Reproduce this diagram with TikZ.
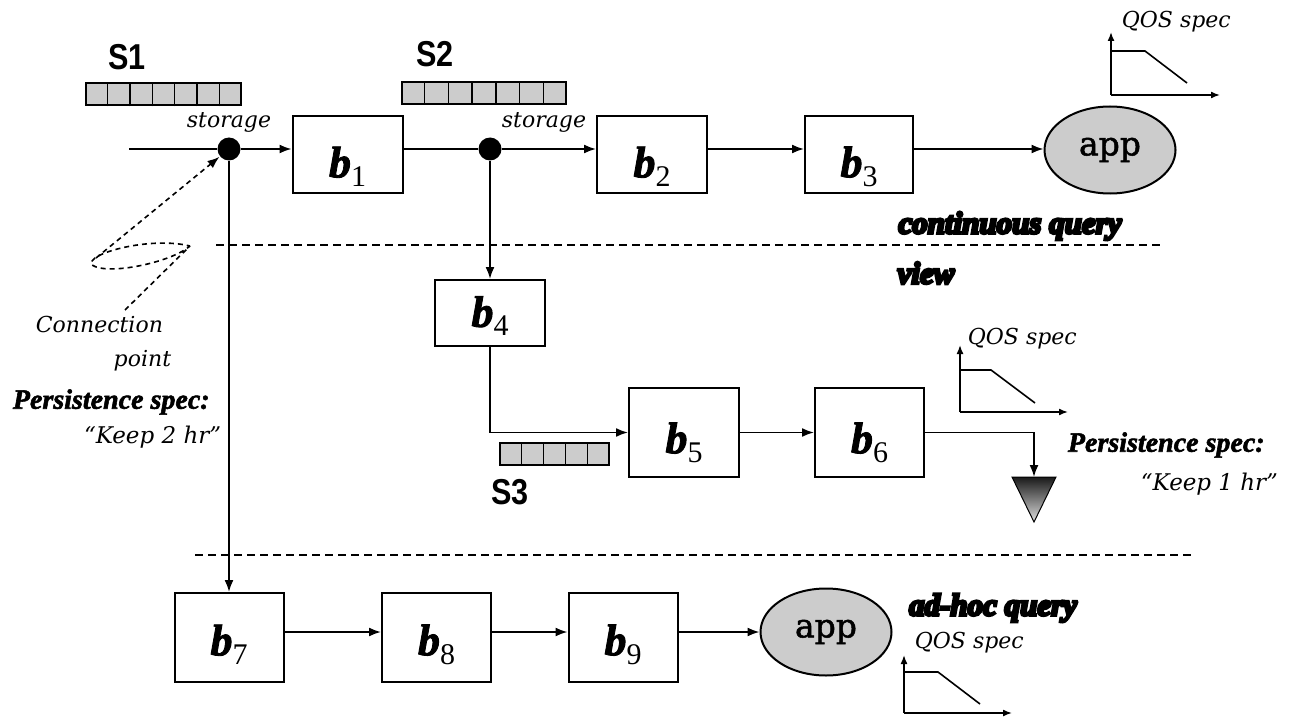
\documentclass[tikz,border=0pt]{standalone}
\usepackage{fontspec}
\setmainfont{Liberation Serif}
\newfontfamily\dvs{DejaVu Serif}
\newfontfamily\dvsb{DejaVu Serif}[FakeBold=1.5]
\newfontfamily\lsans{Liberation Sans}
\newfontfamily\heavyfont{Liberation Serif Bold Italic}[FakeBold=9]
\newfontfamily\bifont{Liberation Serif Bold Italic}[FakeBold=2]
\usetikzlibrary{arrows.meta,calc,shapes.geometric}
\newcommand{\blab}[1]{{\bifont\fontsize{44}{44}\selectfont b}\raisebox{-9pt}{\fontsize{30}{30}\selectfont #1}}
\begin{document}
\begin{tikzpicture}[x=1pt,y=-1pt,line width=1.8pt,
  arr/.style={-{Latex[length=12pt,width=9pt]}},
  arrs/.style={-{Latex[length=9pt,width=7pt]}},
  box/.style={draw,line width=2pt,minimum width=110pt,minimum height=89pt,inner sep=0pt},
  lbl/.style={inner sep=0pt},
  queue/.style={draw,fill=gray!40,line width=2pt,inner sep=0pt,minimum height=22pt},
  dotnode/.style={circle,fill=black,minimum size=23pt,inner sep=0pt},
  appnode/.style={ellipse,draw,fill=gray!40,line width=2pt,minimum width=131pt,minimum height=87pt,inner sep=0pt,font=\dvsb\fontsize{33}{33}\selectfont},
  ital/.style={font=\dvs\itshape\fontsize{22}{22}\selectfont,inner sep=0pt},
  persist/.style={font=\bifont\fontsize{28}{28}\selectfont,inner sep=0pt},
  heavy/.style={font=\heavyfont\fontsize{31}{31}\selectfont,inner sep=0pt},
  sname/.style={font=\lsans\bfseries\fontsize{36}{36}\selectfont,inner sep=0pt},
  sep/.style={dash pattern=on 8pt off 5pt,line width=2pt},
  cpt/.style={dash pattern=on 5pt off 4pt,line width=1.6pt},
  ax/.style={line width=1.6pt},
  divider/.style={line width=1.3pt}]
\useasboundingbox (0,0) rectangle (1300,722);

% queues
\node[sname] (s1) at (127,57) {\scalebox{0.85}[1]{S1}};
\node[queue,minimum width=155pt] (q1) at (163.5,94.5) {};
\foreach \i in {1,...,6} \draw[divider] ($(q1.south west)!\i/7!(q1.south east)$) -- ($(q1.north west)!\i/7!(q1.north east)$);
\node[sname] (s2) at (435,54) {\scalebox{0.85}[1]{S2}};
\node[queue,minimum width=164pt] (q2) at (484,93) {};
\foreach \i in {1,...,6} \draw[divider] ($(q2.south west)!\i/7!(q2.south east)$) -- ($(q2.north west)!\i/7!(q2.north east)$);
\node[queue,minimum width=109pt] (q3) at (554.5,454) {};
\foreach \i in {1,...,4} \draw[divider] ($(q3.south west)!\i/5!(q3.south east)$) -- ($(q3.north west)!\i/5!(q3.north east)$);
\node[sname] (s3) at (510,492) {\scalebox{0.85}[1]{S3}};

% storage points
\node[ital] (st1) at (229,122) {storage};
\node[ital] (st2) at (544,122) {storage};
\node[dotnode] (d1) at (229,149) {};
\node[dotnode] (d2) at (490,149) {};
\coordinate (in) at (129,149);

% boxes
\node[box,minimum height=77pt] (b1) at (347.5,154.5) {};
\node[box,minimum height=77pt] (b2) at (652,154.5) {};
\node[box,minimum height=77pt,minimum width=108pt] (b3) at (859,154.5) {};
\node[box,minimum height=66pt] (b4) at (490,313) {};
\node[box] (b5) at (684,432.5) {};
\node[box,minimum width=109pt] (b6) at (869.5,432.5) {};
\node[box,minimum width=109pt] (b7) at (229,637.5) {};
\node[box,minimum width=109pt] (b8) at (436.5,637.5) {};
\node[box,minimum width=109pt] (b9) at (623,637.5) {};
\node[lbl] (l1) at ([yshift=-12pt]b1.center) {\blab{1}};
\node[lbl] (l2) at ([yshift=-12pt]b2.center) {\blab{2}};
\node[lbl] (l3) at ([yshift=-12pt]b3.center) {\blab{3}};
\node[lbl] (l4) at ([yshift=-3pt]b4.center) {\blab{4}};
\node[lbl] (l5) at ([yshift=-10pt]b5.center) {\blab{5}};
\node[lbl] (l6) at ([yshift=-10pt]b6.center) {\blab{6}};
\node[lbl] (l7) at ([yshift=-7pt]b7.center) {\blab{7}};
\node[lbl] (l8) at ([yshift=-7pt]b8.center) {\blab{8}};
\node[lbl] (l9) at ([yshift=-7pt]b9.center) {\blab{9}};

\node[appnode] (app1) at (1110,150) {app};
\node[appnode] (app3) at (826,632) {app};
\coordinate (r) at (0,632);

% connectors
\draw (in) -- (d1);
\draw[arr] (d1) -- (d1 -| b1.west);
\draw (b1.east |- d2) -- (d2);
\draw[arr] (d2) -- (d2 -| b2.west);
\draw[arr] (b2.east |- d2) -- (b3.west |- d2);
\draw[arr] (b3.east |- d2) -- (app1.west |- d2);
\draw[arr] (d2) -- (b4.north);
\draw[arr] (b4.south) |- (b5.west);
\draw[arr] (b5.east) -- (b6.west);
\coordinate (tri) at (1034,477);
\draw[arr] (b6.east) -| (tri);
\shade[top color=black!90,bottom color=gray!25,draw=black,line width=1pt] (1012,477) -- (1056,477) -- (1034,522) -- cycle;
\draw[arr] (d1) -- (d1 |- b7.north);
\draw[arr] (b7.east |- r) -- (b8.west |- r);
\draw[arr] (b8.east |- r) -- (b9.west |- r);
\draw[arr] (b9.east |- r) -- (app3.west |- r);

% separators
\coordinate (L1a) at (216,245); \coordinate (L1b) at (1162,245);
\coordinate (L2a) at (195,555); \coordinate (L2b) at (1193,555);
\draw[sep] (L1a) -- (L1b);
\draw[sep] (L2a) -- (L2b);
\node[heavy] (cq) at (1010,226) {continuous query};
\node[heavy] (vw) at (926,273) {view};
\node[heavy] (ah) at (993,608) {ad-hoc query};

% QOS specs
\draw[ax,arrs] (1111,95) -- (1111,32);
\draw[ax,arrs] (1111,95) -- (1220,95);
\draw[ax] (1111,51) -- (1145,51) -- (1187,83);
\node[ital,anchor=west] (qt1) at (1121,22) {QOS spec};
\draw[ax,arrs] (960,412) -- (960,345);
\draw[ax,arrs] (960,412) -- (1068,412);
\draw[ax] (960,370) -- (991,370) -- (1035,403);
\node[ital,anchor=west] (qt2) at (967,339) {QOS spec};
\draw[ax,arrs] (904,713) -- (904,655);
\draw[ax,arrs] (904,713) -- (1012,713);
\draw[ax] (904,672) -- (938,672) -- (980,704);
\node[ital,anchor=west] (qt3) at (914,643) {QOS spec};

% annotations
\node[persist,anchor=west] (p2) at (1067,445) {Persistence spec:};
\node[ital,anchor=west,font=\dvs\itshape\fontsize{23}{23}\selectfont] (k1) at (1140,484) {“Keep 1 hr”};
\node[ital,anchor=west] (c1) at (35,324) {Connection};
\node[ital,anchor=east] (c2) at (172,361) {point};
\node[persist,anchor=west] (p1) at (12,402) {Persistence spec:};
\node[ital,anchor=east,font=\dvs\itshape\fontsize{23}{23}\selectfont] (k2) at (222,437) {“Keep 2 hr”};

% connection point pointer
\coordinate (cp0) at (125,310);
\coordinate (cp1) at (190,246);
\coordinate (cp2) at (92,265);
\coordinate (cp3) at (96,258);
\draw[cpt] (cp0) -- (cp1) .. controls (172,262) and (108,276) .. (cp2) .. controls (84,254) and (150,236) .. (cp1);
\draw[cpt,arr] (cp3) -- (d1);
\end{tikzpicture}
\end{document}
